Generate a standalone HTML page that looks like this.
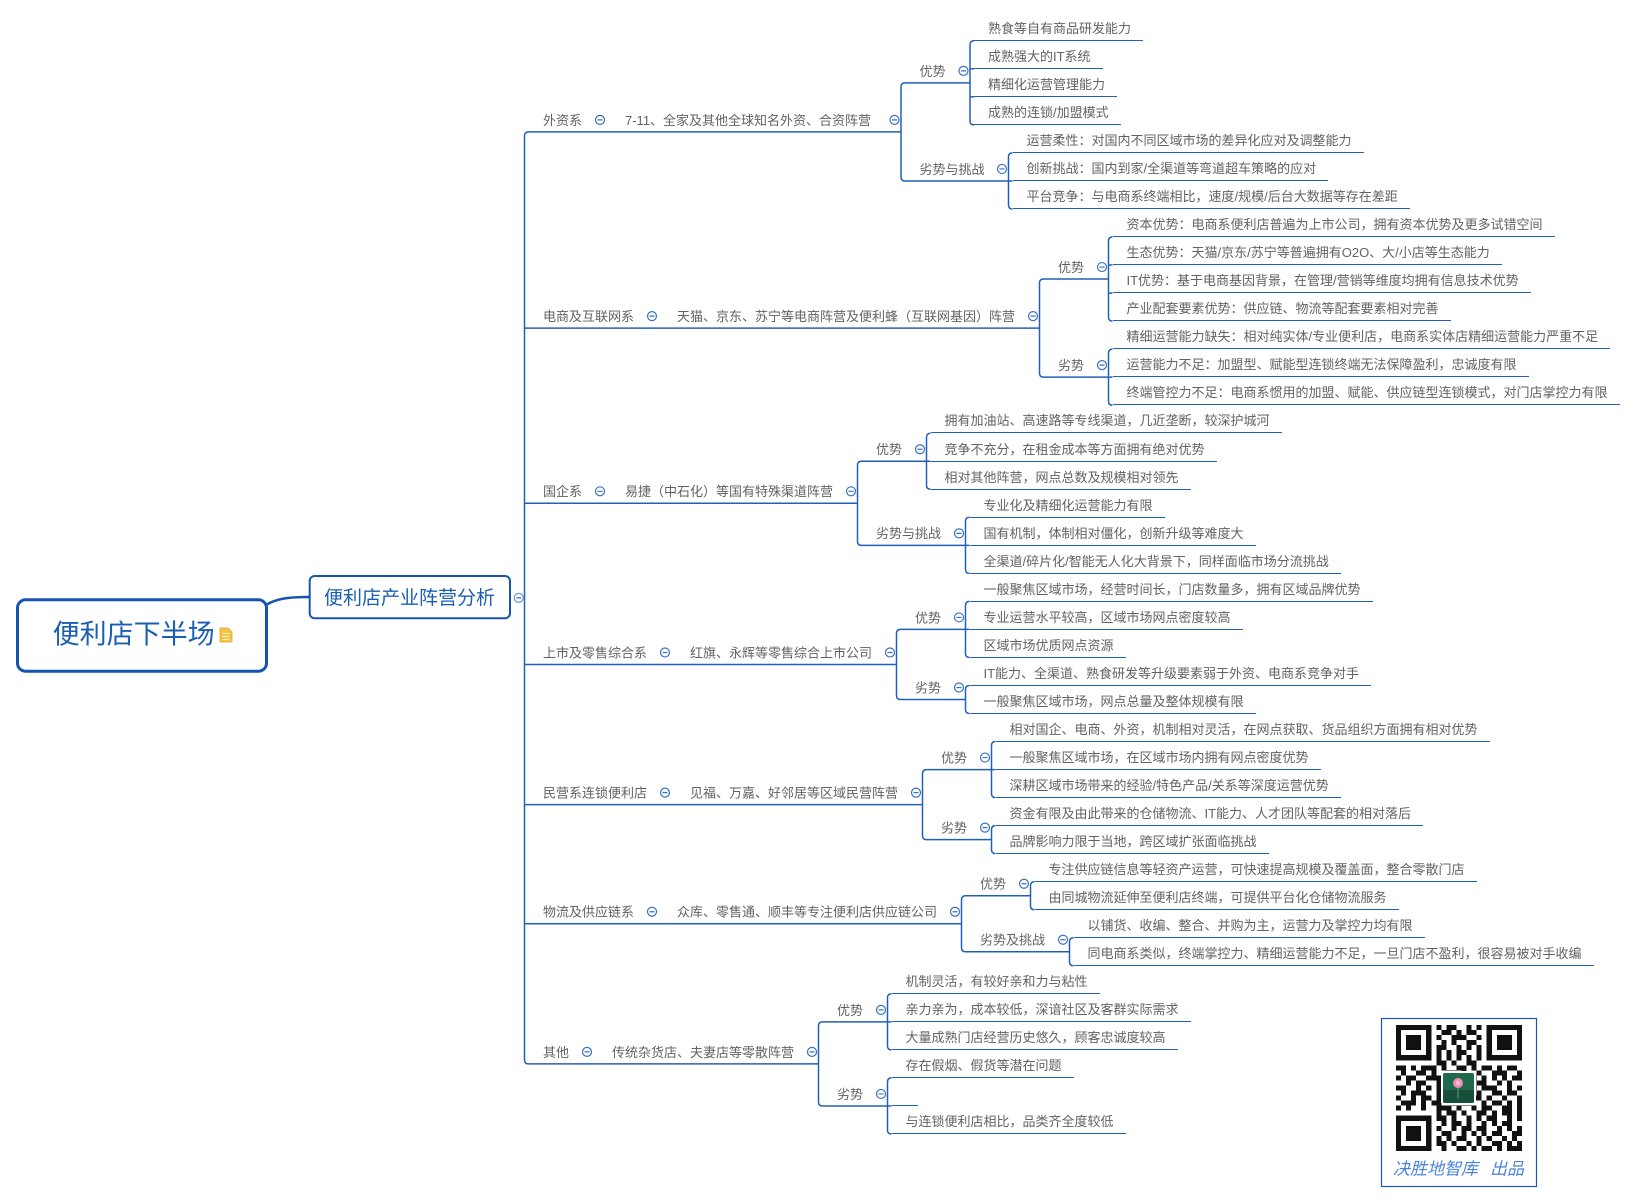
<!DOCTYPE html>
<html><head><meta charset="utf-8">
<style>
html,body{margin:0;padding:0;background:#fff;}
body{width:1636px;height:1204px;position:relative;overflow:hidden;font-family:"Liberation Sans","Noto Sans CJK SC",sans-serif;}
svg{position:absolute;left:0;top:0;}
.l{position:absolute;font-size:13px;line-height:16px;padding:0 12px 3px 14px;border-bottom:1.5px solid #2160b8;color:#626262;white-space:nowrap;}
</style></head><body>
<svg width="1636" height="1204" viewBox="0 0 1636 1204" xmlns="http://www.w3.org/2000/svg" font-family="Liberation Sans, Noto Sans CJK SC, sans-serif">
<!-- root -->
<path d="M266,605 C276,599 286,597 309,597" fill="none" stroke="#1555ad" stroke-width="2.5"/>
<rect x="17.5" y="599.8" width="249" height="71.4" rx="8" fill="#fff" stroke="#1555ad" stroke-width="3"/>
<text x="52.7" y="643.5" font-size="27" fill="#1a5fb4">便利店下半场</text>
<path d="M220,628 h8 l4,4 v10 h-12 z" fill="#f6c445" stroke="#e0a52a" stroke-width="0.8"/>
<path d="M222.5,633.5 h7 M222.5,636.5 h7 M222.5,639.5 h7" stroke="#fff3c8" stroke-width="1"/>
<!-- level 1 -->
<rect x="309.7" y="576" width="200.3" height="42.3" rx="5" fill="#fff" stroke="#1555ad" stroke-width="2"/>
<text x="324" y="604.2" font-size="19" fill="#1a5fb4">便利店产业阵营分析</text>

<g fill="none" stroke="#2160b8" stroke-width="1.5">
<!-- trunk & level-2 underlines -->
<path d="M901,131.9 H528.5 Q524.5,131.9 524.5,135.9 V1059.9 Q524.5,1063.9 528.5,1063.9 H818.5 M524.5,328.1 H1039.5 M524.5,503.3 H857.5 M524.5,664.47 H896.5 M524.5,804.62 H922.5 M524.5,923.75 H961.5 M519,597.9 H524.5"/>
<!-- level-3 brackets -->
<path d="M970,82.85 H905 Q901,82.85 901,86.85 V176.95 Q901,180.95 905,180.95 H1008.5"/>
<path d="M1108.5,279.05 H1043.5 Q1039.5,279.05 1039.5,283.05 V373.16 Q1039.5,377.16 1043.5,377.16 H1108.5"/>
<path d="M926.5,461.25 H861.5 Q857.5,461.25 857.5,465.25 V541.34 Q857.5,545.34 861.5,545.34 H965.5"/>
<path d="M965.5,629.43 H900.5 Q896.5,629.43 896.5,633.43 V695.5 Q896.5,699.5 900.5,699.5 H965.5"/>
<path d="M991.5,769.58 H926.5 Q922.5,769.58 922.5,773.58 V835.66 Q922.5,839.66 926.5,839.66 H991.5"/>
<path d="M1030.5,895.72 H965.5 Q961.5,895.72 961.5,899.72 V947.78 Q961.5,951.78 965.5,951.78 H1069.5"/>
<path d="M887.5,1021.85 H822.5 Q818.5,1021.85 818.5,1025.85 V1101.94 Q818.5,1105.94 822.5,1105.94 H887.5"/>
<!-- leaf brackets -->
<path d="M974,40.8 Q970,40.8 970,44.8 V120.89 Q970,124.89 974,124.89 M970,68.83 H974 M970,96.86 H974"/>
<path d="M1012.5,152.92 Q1008.5,152.92 1008.5,156.92 V204.98 Q1008.5,208.98 1012.5,208.98 M1008.5,180.95 H1012.5"/>
<path d="M1112.5,237.01 Q1108.5,237.01 1108.5,241.01 V317.1 Q1108.5,321.1 1112.5,321.1 M1108.5,265.04 H1112.5 M1108.5,293.07 H1112.5"/>
<path d="M1112.5,349.13 Q1108.5,349.13 1108.5,353.13 V401.19 Q1108.5,405.19 1112.5,405.19 M1108.5,377.16 H1112.5"/>
<path d="M930.5,433.22 Q926.5,433.22 926.5,437.22 V485.28 Q926.5,489.28 930.5,489.28 M926.5,461.25 H930.5"/>
<path d="M969.5,517.31 Q965.5,517.31 965.5,521.31 V569.37 Q965.5,573.37 969.5,573.37 M965.5,545.34 H969.5"/>
<path d="M969.5,601.4 Q965.5,601.4 965.5,605.4 V653.46 Q965.5,657.46 969.5,657.46 M965.5,629.43 H969.5"/>
<path d="M969.5,685.49 Q965.5,685.49 965.5,689.49 V709.52 Q965.5,713.52 969.5,713.52"/>
<path d="M995.5,741.55 Q991.5,741.55 991.5,745.55 V793.61 Q991.5,797.61 995.5,797.61 M991.5,769.58 H995.5"/>
<path d="M995.5,825.64 Q991.5,825.64 991.5,829.64 V849.67 Q991.5,853.67 995.5,853.67"/>
<path d="M1034.5,881.7 Q1030.5,881.7 1030.5,885.7 V905.73 Q1030.5,909.73 1034.5,909.73"/>
<path d="M1073.5,937.76 Q1069.5,937.76 1069.5,941.76 V961.79 Q1069.5,965.79 1073.5,965.79"/>
<path d="M891.5,993.82 Q887.5,993.82 887.5,997.82 V1045.88 Q887.5,1049.88 891.5,1049.88 M887.5,1021.85 H891.5"/>
<path d="M891.5,1077.91 Q887.5,1077.91 887.5,1081.91 V1129.97 Q887.5,1133.97 891.5,1133.97 M887.5,1105.94 H891.5"/>
</g>

<!-- collapse circles -->
<g fill="#fff" stroke="#3a72c2" stroke-width="1.2">
<circle cx="518.7" cy="597.9" r="4.5" stroke="#6d95d4"/>
<circle cx="600" cy="119.9" r="4.5"/><circle cx="652" cy="316.1" r="4.5"/><circle cx="600" cy="491.3" r="4.5"/><circle cx="665" cy="652.47" r="4.5"/><circle cx="665" cy="792.62" r="4.5"/><circle cx="652" cy="911.75" r="4.5"/><circle cx="587" cy="1051.9" r="4.5"/>
<circle cx="894.5" cy="119.9" r="4.5"/><circle cx="1033" cy="316.1" r="4.5"/><circle cx="851" cy="491.3" r="4.5"/><circle cx="890" cy="652.47" r="4.5"/><circle cx="916" cy="792.62" r="4.5"/><circle cx="955" cy="911.75" r="4.5"/><circle cx="812" cy="1051.9" r="4.5"/>
<circle cx="963.5" cy="70.85" r="4.5"/><circle cx="1002" cy="168.95" r="4.5"/><circle cx="1102" cy="267.05" r="4.5"/><circle cx="1102" cy="365.16" r="4.5"/><circle cx="920" cy="449.25" r="4.5"/><circle cx="959" cy="533.34" r="4.5"/><circle cx="959" cy="617.43" r="4.5"/><circle cx="959" cy="687.5" r="4.5"/><circle cx="985" cy="757.58" r="4.5"/><circle cx="985" cy="827.66" r="4.5"/><circle cx="1024" cy="883.72" r="4.5"/><circle cx="1063" cy="939.78" r="4.5"/><circle cx="881" cy="1009.85" r="4.5"/><circle cx="881" cy="1093.94" r="4.5"/>
</g>
<path stroke="#3a72c2" stroke-width="1.2" fill="none" d="M516.2,597.9h5 M597.5,119.9h5 M649.5,316.1h5 M597.5,491.3h5 M662.5,652.47h5 M662.5,792.62h5 M649.5,911.75h5 M584.5,1051.9h5 M892,119.9h5 M1030.5,316.1h5 M848.5,491.3h5 M887.5,652.47h5 M913.5,792.62h5 M952.5,911.75h5 M809.5,1051.9h5 M961,70.85h5 M999.5,168.95h5 M1099.5,267.05h5 M1099.5,365.16h5 M917.5,449.25h5 M956.5,533.34h5 M956.5,617.43h5 M956.5,687.5h5 M982.5,757.58h5 M982.5,827.66h5 M1021.5,883.72h5 M1060.5,939.78h5 M878.5,1009.85h5 M878.5,1093.94h5"/>

<!-- level 2 / 3 texts -->
<g font-size="13" fill="#626262">
<text x="543" y="124.8">外资系</text>
<text x="543" y="321">电商及互联网系</text>
<text x="543" y="496.2">国企系</text>
<text x="543" y="657.37">上市及零售综合系</text>
<text x="543" y="797.52">民营系连锁便利店</text>
<text x="543" y="916.65">物流及供应链系</text>
<text x="543" y="1056.8">其他</text>
<text x="625" y="124.8">7-11、全家及其他全球知名外资、合资阵营</text>
<text x="677" y="321">天猫、京东、苏宁等电商阵营及便利蜂（互联网基因）阵营</text>
<text x="625" y="496.2">易捷（中石化）等国有特殊渠道阵营</text>
<text x="690" y="657.37">红旗、永辉等零售综合上市公司</text>
<text x="690" y="797.52">见福、万嘉、好邻居等区域民营阵营</text>
<text x="677" y="916.65">众库、零售通、顺丰等专注便利店供应链公司</text>
<text x="612" y="1056.8">传统杂货店、夫妻店等零散阵营</text>
<text x="919.5" y="75.75">优势</text>
<text x="919.5" y="173.85">劣势与挑战</text>
<text x="1058" y="271.95">优势</text>
<text x="1058" y="370.06">劣势</text>
<text x="876" y="454.15">优势</text>
<text x="876" y="538.24">劣势与挑战</text>
<text x="915" y="622.33">优势</text>
<text x="915" y="692.4">劣势</text>
<text x="941" y="762.48">优势</text>
<text x="941" y="832.56">劣势</text>
<text x="980" y="888.62">优势</text>
<text x="980" y="944.68">劣势及挑战</text>
<text x="837" y="1014.75">优势</text>
<text x="837" y="1098.84">劣势</text>
</g>

<!-- QR block -->
<rect x="1381.5" y="1018.5" width="155" height="168" fill="#fff" stroke="#1d56b0" stroke-width="1.2"/>
<g transform="translate(1396,1025) scale(5.04)" fill="#111" shape-rendering="crispEdges">
<rect x="0" y="0" width="7" height="7"/><rect x="1" y="1" width="5" height="5" fill="#fff"/><rect x="2" y="2" width="3" height="3"/>
<rect x="18" y="0" width="7" height="7"/><rect x="19" y="1" width="5" height="5" fill="#fff"/><rect x="20" y="2" width="3" height="3"/>
<rect x="0" y="18" width="7" height="7"/><rect x="1" y="19" width="5" height="5" fill="#fff"/><rect x="2" y="20" width="3" height="3"/>
<path d="M8 0h1v1h-1z M10 0h2v1h-2z M14 0h1v1h-1z M16 0h1v1h-1z
M9 1h2v1h-2z M12 1h1v1h-1z M14 1h2v1h-2z
M8 2h1v1h-1z M11 2h3v1h-3z M16 2h1v1h-1z
M9 3h1v1h-1z M11 3h1v1h-1z M14 3h2v1h-2z
M8 4h2v1h-2z M12 4h1v1h-1z M14 4h1v1h-1z M16 4h1v1h-1z
M8 5h1v1h-1z M10 5h1v1h-1z M12 5h2v1h-2z M16 5h1v1h-1z
M8 6h1v1h-1z M10 6h1v1h-1z M12 6h1v1h-1z M14 6h1v1h-1z M16 6h1v1h-1z
M8 7h2v1h-2z M11 7h1v1h-1z M14 7h2v1h-2z
M0 8h2v1h-2z M3 8h1v1h-1z M5 8h3v1h-3z M9 8h1v1h-1z M12 8h2v1h-2z M15 8h1v1h-1z M17 8h2v1h-2z M20 8h1v1h-1z M22 8h2v1h-2z
M1 9h1v1h-1z M4 9h2v1h-2z M7 9h1v1h-1z M10 9h2v1h-2z M13 9h1v1h-1z M16 9h1v1h-1z M19 9h3v1h-3z M24 9h1v1h-1z
M0 10h1v1h-1z M2 10h2v1h-2z M6 10h4v1h-4z M11 10h1v1h-1z M14 10h2v1h-2z M17 10h1v1h-1z M19 10h1v1h-1z M21 10h1v1h-1z M23 10h2v1h-2z
M2 11h1v1h-1z M4 11h2v1h-2z M8 11h1v1h-1z M10 11h2v1h-2z M13 11h2v1h-2z M16 11h2v1h-2z M20 11h1v1h-1z M22 11h1v1h-1z
M0 12h2v1h-2z M4 12h1v1h-1z M6 12h1v1h-1z M8 12h3v1h-3z M13 12h1v1h-1z M15 12h1v1h-1z M17 12h3v1h-3z M22 12h1v1h-1z M24 12h1v1h-1z
M1 13h1v1h-1z M3 13h3v1h-3z M8 13h1v1h-1z M11 13h2v1h-2z M14 13h1v1h-1z M16 13h1v1h-1z M19 13h2v1h-2z M22 13h2v1h-2z
M0 14h1v1h-1z M3 14h1v1h-1z M5 14h2v1h-2z M8 14h1v1h-1z M10 14h1v1h-1z M12 14h1v1h-1z M15 14h2v1h-2z M18 14h1v1h-1z M21 14h1v1h-1z M24 14h1v1h-1z
M1 15h3v1h-3z M5 15h1v1h-1z M7 15h2v1h-2z M11 15h1v1h-1z M13 15h2v1h-2z M17 15h1v1h-1z M19 15h2v1h-2z M22 15h1v1h-1z M24 15h1v1h-1z
M0 16h1v1h-1z M2 16h1v1h-1z M5 16h1v1h-1z M8 16h3v1h-3z M12 16h1v1h-1z M15 16h1v1h-1z M17 16h2v1h-2z M21 16h2v1h-2z M24 16h1v1h-1z
M8 17h1v1h-1z M10 17h2v1h-2z M13 17h1v1h-1z M16 17h2v1h-2z M19 17h1v1h-1z M21 17h2v1h-2z M24 17h1v1h-1z
M8 18h2v1h-2z M11 18h1v1h-1z M14 18h1v1h-1z M16 18h1v1h-1z M18 18h2v1h-2z M22 18h1v1h-1z M24 18h1v1h-1z
M9 19h1v1h-1z M11 19h2v1h-2z M14 19h1v1h-1z M17 19h1v1h-1z M19 19h1v1h-1z M21 19h2v1h-2z
M8 20h1v1h-1z M11 20h1v1h-1z M13 20h2v1h-2z M16 20h2v1h-2z M20 20h1v1h-1z M22 20h1v1h-1z M24 20h1v1h-1z
M9 21h2v1h-2z M13 21h1v1h-1z M15 21h1v1h-1z M17 21h1v1h-1z M19 21h2v1h-2z M23 21h2v1h-2z
M8 22h1v1h-1z M10 22h1v1h-1z M12 22h2v1h-2z M16 22h1v1h-1z M18 22h1v1h-1z M21 22h1v1h-1z M23 22h1v1h-1z
M8 23h2v1h-2z M11 23h1v1h-1z M14 23h1v1h-1z M16 23h1v1h-1z M19 23h2v1h-2z M22 23h1v1h-1z M24 23h1v1h-1z
M9 24h1v1h-1z M12 24h2v1h-2z M15 24h1v1h-1z M17 24h2v1h-2z M20 24h1v1h-1z M22 24h3v1h-3z"/>
</g>
<rect x="1441" y="1071" width="35" height="34" rx="3" fill="#fff"/>
<rect x="1443" y="1073" width="31" height="30" rx="2" fill="#1f6a4d"/>
<rect x="1443" y="1090" width="31" height="13" rx="2" fill="#174f3a"/>
<path d="M1458,1087 v12" stroke="#5aa66a" stroke-width="1"/>
<circle cx="1458" cy="1083" r="5" fill="#f08db2"/>
<circle cx="1458" cy="1083" r="2.2" fill="#f7c0d4"/>
<g font-size="17" fill="#4a84dc" font-style="italic">
<text x="1393" y="1174.5">决胜地智库</text>
<text x="1490" y="1174.5">出品</text>
</g>
</svg>

<!-- leaves -->
<div class="l" style="left:974px;top:21.05px">熟食等自有商品研发能力</div>
<div class="l" style="left:974px;top:49.08px">成熟强大的IT系统</div>
<div class="l" style="left:974px;top:77.11px">精细化运营管理能力</div>
<div class="l" style="left:974px;top:105.14px">成熟的连锁/加盟模式</div>
<div class="l" style="left:1012.5px;top:133.17px">运营柔性：对国内不同区域市场的差异化应对及调整能力</div>
<div class="l" style="left:1012.5px;top:161.2px">创新挑战：国内到家/全渠道等弯道超车策略的应对</div>
<div class="l" style="left:1012.5px;top:189.23px">平台竞争：与电商系终端相比，速度/规模/后台大数据等存在差距</div>
<div class="l" style="left:1112.5px;top:217.26px">资本优势：电商系便利店普遍为上市公司，拥有资本优势及更多试错空间</div>
<div class="l" style="left:1112.5px;top:245.29px">生态优势：天猫/京东/苏宁等普遍拥有O2O、大/小店等生态能力</div>
<div class="l" style="left:1112.5px;top:273.32px">IT优势：基于电商基因背景，在管理/营销等维度均拥有信息技术优势</div>
<div class="l" style="left:1112.5px;top:301.35px">产业配套要素优势：供应链、物流等配套要素相对完善</div>
<div class="l" style="left:1112.5px;top:329.38px">精细运营能力缺失：相对纯实体/专业便利店，电商系实体店精细运营能力严重不足</div>
<div class="l" style="left:1112.5px;top:357.41px">运营能力不足：加盟型、赋能型连锁终端无法保障盈利，忠诚度有限</div>
<div class="l" style="left:1112.5px;top:385.44px">终端管控力不足：电商系惯用的加盟、赋能、供应链型连锁模式，对门店掌控力有限</div>
<div class="l" style="left:930.5px;top:413.47px">拥有加油站、高速路等专线渠道，几近垄断，较深护城河</div>
<div class="l" style="left:930.5px;top:441.5px">竞争不充分，在租金成本等方面拥有绝对优势</div>
<div class="l" style="left:930.5px;top:469.53px">相对其他阵营，网点总数及规模相对领先</div>
<div class="l" style="left:969.5px;top:497.56px">专业化及精细化运营能力有限</div>
<div class="l" style="left:969.5px;top:525.59px">国有机制，体制相对僵化，创新升级等难度大</div>
<div class="l" style="left:969.5px;top:553.62px">全渠道/碎片化/智能无人化大背景下，同样面临市场分流挑战</div>
<div class="l" style="left:969.5px;top:581.65px">一般聚焦区域市场，经营时间长，门店数量多，拥有区域品牌优势</div>
<div class="l" style="left:969.5px;top:609.68px">专业运营水平较高，区域市场网点密度较高</div>
<div class="l" style="left:969.5px;top:637.71px">区域市场优质网点资源</div>
<div class="l" style="left:969.5px;top:665.74px">IT能力、全渠道、熟食研发等升级要素弱于外资、电商系竞争对手</div>
<div class="l" style="left:969.5px;top:693.77px">一般聚焦区域市场，网点总量及整体规模有限</div>
<div class="l" style="left:995.5px;top:721.8px">相对国企、电商、外资，机制相对灵活，在网点获取、货品组织方面拥有相对优势</div>
<div class="l" style="left:995.5px;top:749.83px">一般聚焦区域市场，在区域市场内拥有网点密度优势</div>
<div class="l" style="left:995.5px;top:777.86px">深耕区域市场带来的经验/特色产品/关系等深度运营优势</div>
<div class="l" style="left:995.5px;top:805.89px">资金有限及由此带来的仓储物流、IT能力、人才团队等配套的相对落后</div>
<div class="l" style="left:995.5px;top:833.92px">品牌影响力限于当地，跨区域扩张面临挑战</div>
<div class="l" style="left:1034.5px;top:861.95px">专注供应链信息等轻资产运营，可快速提高规模及覆盖面，整合零散门店</div>
<div class="l" style="left:1034.5px;top:889.98px">由同城物流延伸至便利店终端，可提供平台化仓储物流服务</div>
<div class="l" style="left:1073.5px;top:918.01px">以铺货、收编、整合、并购为主，运营力及掌控力均有限</div>
<div class="l" style="left:1073.5px;top:946.04px">同电商系类似，终端掌控力、精细运营能力不足，一旦门店不盈利，很容易被对手收编</div>
<div class="l" style="left:891.5px;top:974.07px">机制灵活，有较好亲和力与粘性</div>
<div class="l" style="left:891.5px;top:1002.1px">亲力亲为，成本较低，深谙社区及客群实际需求</div>
<div class="l" style="left:891.5px;top:1030.13px">大量成熟门店经营历史悠久，顾客忠诚度较高</div>
<div class="l" style="left:891.5px;top:1058.16px">存在假烟、假货等潜在问题</div>
<div class="l" style="left:891.5px;top:1086.19px;width:0;height:16px"></div>
<div class="l" style="left:891.5px;top:1114.22px">与连锁便利店相比，品类齐全度较低</div>
</body></html>
